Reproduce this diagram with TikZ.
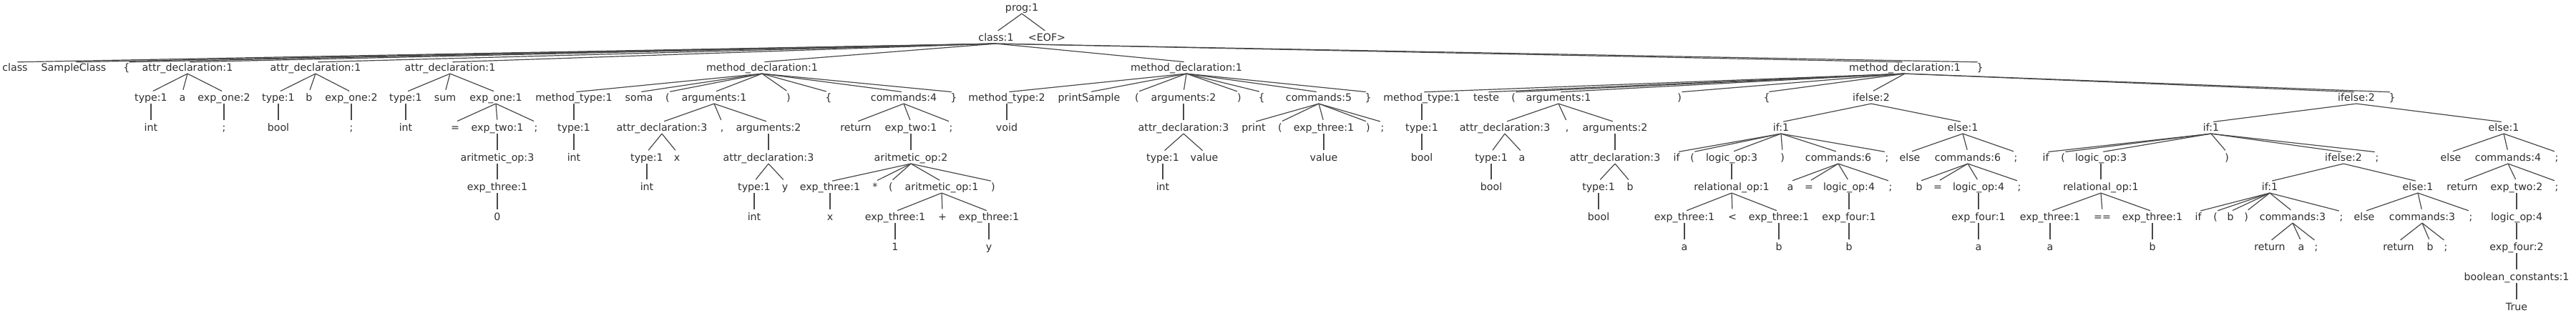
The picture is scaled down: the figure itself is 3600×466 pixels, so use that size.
\documentclass[tikz,border=0pt]{standalone}
\usepackage{fontspec}
\setmainfont{DejaVu Sans}
\usepackage{tikz}
\definecolor{NodeInk}{RGB}{45,45,45}
\definecolor{BranchGray}{RGB}{72,72,72}
\tikzset{
  tok/.style={inner sep=0pt,text height=6.25pt,text depth=1.45pt,text=NodeInk,font=\fontsize{7.1}{8}\selectfont},
  branch/.style={line width=0.6pt,draw=BranchGray,shorten >=1.65pt}
}
\begin{document}
\begin{tikzpicture}[x=0.5pt,y=-0.5pt]
\useasboundingbox (0,0) rectangle (3600,466);
\node[tok] (prog) at (1428,11) {prog:1};
\node[tok] (cls) at (1392,53) {class:1};
\node[tok] (eof) at (1463,53) {<EOF>};
\node[tok] (kwclass) at (21,95) {class};
\node[tok] (sname) at (103,95) {SampleClass};
\node[tok] (lb0) at (177,95) {\{};
\node[tok] (adA) at (262,95) {attr\_declaration:1};
\node[tok] (adB) at (441,95) {attr\_declaration:1};
\node[tok] (adC) at (629,95) {attr\_declaration:1};
\node[tok] (mdA) at (1065,95) {method\_declaration:1};
\node[tok] (mdB) at (1658,95) {method\_declaration:1};
\node[tok] (mdC) at (2662,95) {method\_declaration:1};
\node[tok] (rb0) at (2767,95) {\}};
\node[tok] (tA) at (211,137) {type:1};
\node[tok] (idA) at (255,137) {a};
\node[tok] (eoA) at (313,137) {exp\_one:2};
\node[tok] (tB) at (389,137) {type:1};
\node[tok] (idB) at (432,137) {b};
\node[tok] (eoB) at (491,137) {exp\_one:2};
\node[tok] (tC) at (567,137) {type:1};
\node[tok] (idC) at (622,137) {sum};
\node[tok] (eoC) at (693,137) {exp\_one:1};
\node[tok] (mtA) at (802,137) {method\_type:1};
\node[tok] (nmA) at (893,137) {soma};
\node[tok] (lpA) at (933,137) {(};
\node[tok] (argA) at (998,137) {arguments:1};
\node[tok] (rpA) at (1102,137) {)};
\node[tok] (lbA) at (1158,137) {\{};
\node[tok] (cmA) at (1263,137) {commands:4};
\node[tok] (rbA) at (1333,137) {\}};
\node[tok] (mtB) at (1407,137) {method\_type:2};
\node[tok] (nmB) at (1522,137) {printSample};
\node[tok] (lpB) at (1589,137) {(};
\node[tok] (argB) at (1654,137) {arguments:2};
\node[tok] (rpB) at (1732,137) {)};
\node[tok] (lbB) at (1763,137) {\{};
\node[tok] (cmB) at (1843,137) {commands:5};
\node[tok] (rbB) at (1912,137) {\}};
\node[tok] (mtC) at (1987,137) {method\_type:1};
\node[tok] (nmC) at (2077,137) {teste};
\node[tok] (lpC) at (2115,137) {(};
\node[tok] (argC) at (2178,137) {arguments:1};
\node[tok] (rpC) at (2347,137) {)};
\node[tok] (lbC) at (2469,137) {\{};
\node[tok] (ieA) at (2615,137) {ifelse:2};
\node[tok] (ieB) at (3293,137) {ifelse:2};
\node[tok] (rbC) at (3343,137) {\}};
\node[tok] (intA) at (211,179) {int};
\node[tok] (scA) at (313,179) {;};
\node[tok] (boolB) at (389,179) {bool};
\node[tok] (scB) at (491,179) {;};
\node[tok] (intC) at (567,179) {int};
\node[tok] (eqC) at (636,179) {=};
\node[tok] (etC) at (695,179) {exp\_two:1};
\node[tok] (scC) at (749,179) {;};
\node[tok] (tmA) at (802,179) {type:1};
\node[tok] (adA3) at (925,179) {attr\_declaration:3};
\node[tok] (cmaA) at (1009,179) {,};
\node[tok] (argA2) at (1074,179) {arguments:2};
\node[tok] (retA) at (1196,179) {return};
\node[tok] (etA) at (1273,179) {exp\_two:1};
\node[tok] (scA4) at (1329,179) {;};
\node[tok] (voidB) at (1407,179) {void};
\node[tok] (adB3) at (1654,179) {attr\_declaration:3};
\node[tok] (prB) at (1752,179) {print};
\node[tok] (lpB4) at (1789,179) {(};
\node[tok] (e3B) at (1850,179) {exp\_three:1};
\node[tok] (rpB4) at (1912,179) {)};
\node[tok] (scB4) at (1932,179) {;};
\node[tok] (tmC) at (1987,179) {type:1};
\node[tok] (adC3) at (2103,179) {attr\_declaration:3};
\node[tok] (cmaC) at (2190,179) {,};
\node[tok] (argC2) at (2257,179) {arguments:2};
\node[tok] (ifA) at (2489,179) {if:1};
\node[tok] (elA) at (2743,179) {else:1};
\node[tok] (ifB) at (3090,179) {if:1};
\node[tok] (elB) at (3499,179) {else:1};
\node[tok] (aoC) at (695,221) {aritmetic\_op:3};
\node[tok] (intA5) at (802,221) {int};
\node[tok] (tx) at (904,221) {type:1};
\node[tok] (vx) at (946,221) {x};
\node[tok] (adA3y) at (1074,221) {attr\_declaration:3};
\node[tok] (aoA2) at (1273,221) {aritmetic\_op:2};
\node[tok] (tv) at (1625,221) {type:1};
\node[tok] (vv) at (1683,221) {value};
\node[tok] (valB) at (1850,221) {value};
\node[tok] (boolC) at (1987,221) {bool};
\node[tok] (ta) at (2084,221) {type:1};
\node[tok] (va) at (2127,221) {a};
\node[tok] (adC3b) at (2257,221) {attr\_declaration:3};
\node[tok] (kifA) at (2343,221) {if};
\node[tok] (lpIA) at (2365,221) {(};
\node[tok] (loA) at (2420,221) {logic\_op:3};
\node[tok] (rpIA) at (2491,221) {)};
\node[tok] (cmIA) at (2569,221) {commands:6};
\node[tok] (scIA) at (2637,221) {;};
\node[tok] (kelA) at (2669,221) {else};
\node[tok] (cmEA) at (2750,221) {commands:6};
\node[tok] (scEA) at (2817,221) {;};
\node[tok] (kifB) at (2859,221) {if};
\node[tok] (lpIB) at (2883,221) {(};
\node[tok] (loB) at (2936,221) {logic\_op:3};
\node[tok] (rpIB) at (3112,221) {)};
\node[tok] (ieC) at (3275,221) {ifelse:2};
\node[tok] (scIB) at (3322,221) {;};
\node[tok] (kelB) at (3425,221) {else};
\node[tok] (cmEB) at (3505,221) {commands:4};
\node[tok] (scEB) at (3573,221) {;};
\node[tok] (e3C) at (695,262) {exp\_three:1};
\node[tok] (intx) at (904,262) {int};
\node[tok] (ty) at (1054,262) {type:1};
\node[tok] (vy) at (1097,262) {y};
\node[tok] (e3x) at (1160,262) {exp\_three:1};
\node[tok] (mul) at (1223,262) {*};
\node[tok] (lpM) at (1245,262) {(};
\node[tok] (aoA1) at (1316,262) {aritmetic\_op:1};
\node[tok] (rpM) at (1388,262) {)};
\node[tok] (intv) at (1625,262) {int};
\node[tok] (boola) at (2084,262) {bool};
\node[tok] (tb) at (2234,262) {type:1};
\node[tok] (vb) at (2278,262) {b};
\node[tok] (roA) at (2420,262) {relational\_op:1};
\node[tok] (asA) at (2502,262) {a};
\node[tok] (eqIA) at (2528,262) {=};
\node[tok] (l4A) at (2584,262) {logic\_op:4};
\node[tok] (scI6) at (2642,262) {;};
\node[tok] (asB) at (2682,262) {b};
\node[tok] (eqEA) at (2708,262) {=};
\node[tok] (l4B) at (2765,262) {logic\_op:4};
\node[tok] (scE6) at (2822,262) {;};
\node[tok] (roB) at (2936,262) {relational\_op:1};
\node[tok] (ifC) at (3172,262) {if:1};
\node[tok] (elC) at (3379,262) {else:1};
\node[tok] (retB) at (3441,262) {return};
\node[tok] (et2) at (3517,262) {exp\_two:2};
\node[tok] (scE7) at (3573,262) {;};
\node[tok] (zero) at (695,304) {0};
\node[tok] (inty) at (1054,304) {int};
\node[tok] (xx) at (1160,304) {x};
\node[tok] (e31) at (1251,304) {exp\_three:1};
\node[tok] (plus) at (1317,304) {+};
\node[tok] (e3y) at (1382,304) {exp\_three:1};
\node[tok] (boolb) at (2234,304) {bool};
\node[tok] (e3a) at (2354,304) {exp\_three:1};
\node[tok] (lt) at (2421,304) {<};
\node[tok] (e3b) at (2486,304) {exp\_three:1};
\node[tok] (e4A) at (2584,304) {exp\_four:1};
\node[tok] (e4B) at (2765,304) {exp\_four:1};
\node[tok] (e3aa) at (2865,304) {exp\_three:1};
\node[tok] (eqeq) at (2938,304) {==};
\node[tok] (e3bb) at (3008,304) {exp\_three:1};
\node[tok] (kifC) at (3072,304) {if};
\node[tok] (lpIC) at (3096,304) {(};
\node[tok] (vbC) at (3117,304) {b};
\node[tok] (rpIC) at (3139,304) {)};
\node[tok] (cmIC) at (3204,304) {commands:3};
\node[tok] (scIC) at (3272,304) {;};
\node[tok] (kelC) at (3304,304) {else};
\node[tok] (cmEC) at (3385,304) {commands:3};
\node[tok] (scEC) at (3453,304) {;};
\node[tok] (l4C) at (3517,304) {logic\_op:4};
\node[tok] (one) at (1251,346) {1};
\node[tok] (yy) at (1382,346) {y};
\node[tok] (aa) at (2354,346) {a};
\node[tok] (bb) at (2486,346) {b};
\node[tok] (b4) at (2584,346) {b};
\node[tok] (a4) at (2765,346) {a};
\node[tok] (aaa) at (2865,346) {a};
\node[tok] (bbb) at (3008,346) {b};
\node[tok] (retC) at (3172,346) {return};
\node[tok] (raC) at (3216,346) {a};
\node[tok] (scR1) at (3237,346) {;};
\node[tok] (retD) at (3352,346) {return};
\node[tok] (rbD) at (3396,346) {b};
\node[tok] (scR2) at (3418,346) {;};
\node[tok] (e4C) at (3517,346) {exp\_four:2};
\node[tok] (bc) at (3517,388) {boolean\_constants:1};
\node[tok] (tru) at (3517,430) {True};
\path[branch] (prog.south) edge (cls.north) edge (eof.north);
\path[branch] (cls.south) edge (kwclass.north) edge (sname.north) edge (lb0.north) edge (adA.north) edge (adB.north) edge (adC.north) edge (mdA.north) edge (mdB.north) edge (mdC.north) edge (rb0.north);
\path[branch] (adA.south) edge (tA.north) edge (idA.north) edge (eoA.north);
\path[branch] (adB.south) edge (tB.north) edge (idB.north) edge (eoB.north);
\path[branch] (adC.south) edge (tC.north) edge (idC.north) edge (eoC.north);
\path[branch] (mdA.south) edge (mtA.north) edge (nmA.north) edge (lpA.north) edge (argA.north) edge (rpA.north) edge (lbA.north) edge (cmA.north) edge (rbA.north);
\path[branch] (mdB.south) edge (mtB.north) edge (nmB.north) edge (lpB.north) edge (argB.north) edge (rpB.north) edge (lbB.north) edge (cmB.north) edge (rbB.north);
\path[branch] (mdC.south) edge (mtC.north) edge (nmC.north) edge (lpC.north) edge (argC.north) edge (rpC.north) edge (lbC.north) edge (ieA.north) edge (ieB.north) edge (rbC.north);
\path[branch] (tA.south) edge (intA.north);
\path[branch] (eoA.south) edge (scA.north);
\path[branch] (tB.south) edge (boolB.north);
\path[branch] (eoB.south) edge (scB.north);
\path[branch] (tC.south) edge (intC.north);
\path[branch] (eoC.south) edge (eqC.north) edge (etC.north) edge (scC.north);
\path[branch] (mtA.south) edge (tmA.north);
\path[branch] (argA.south) edge (adA3.north) edge (cmaA.north) edge (argA2.north);
\path[branch] (cmA.south) edge (retA.north) edge (etA.north) edge (scA4.north);
\path[branch] (mtB.south) edge (voidB.north);
\path[branch] (argB.south) edge (adB3.north);
\path[branch] (cmB.south) edge (prB.north) edge (lpB4.north) edge (e3B.north) edge (rpB4.north) edge (scB4.north);
\path[branch] (mtC.south) edge (tmC.north);
\path[branch] (argC.south) edge (adC3.north) edge (cmaC.north) edge (argC2.north);
\path[branch] (ieA.south) edge (ifA.north) edge (elA.north);
\path[branch] (ieB.south) edge (ifB.north) edge (elB.north);
\path[branch] (etC.south) edge (aoC.north);
\path[branch] (tmA.south) edge (intA5.north);
\path[branch] (adA3.south) edge (tx.north) edge (vx.north);
\path[branch] (argA2.south) edge (adA3y.north);
\path[branch] (etA.south) edge (aoA2.north);
\path[branch] (adB3.south) edge (tv.north) edge (vv.north);
\path[branch] (e3B.south) edge (valB.north);
\path[branch] (tmC.south) edge (boolC.north);
\path[branch] (adC3.south) edge (ta.north) edge (va.north);
\path[branch] (argC2.south) edge (adC3b.north);
\path[branch] (ifA.south) edge (kifA.north) edge (lpIA.north) edge (loA.north) edge (rpIA.north) edge (cmIA.north) edge (scIA.north);
\path[branch] (elA.south) edge (kelA.north) edge (cmEA.north) edge (scEA.north);
\path[branch] (ifB.south) edge (kifB.north) edge (lpIB.north) edge (loB.north) edge (rpIB.north) edge (ieC.north) edge (scIB.north);
\path[branch] (elB.south) edge (kelB.north) edge (cmEB.north) edge (scEB.north);
\path[branch] (aoC.south) edge (e3C.north);
\path[branch] (tx.south) edge (intx.north);
\path[branch] (adA3y.south) edge (ty.north) edge (vy.north);
\path[branch] (aoA2.south) edge (e3x.north) edge (mul.north) edge (lpM.north) edge (aoA1.north) edge (rpM.north);
\path[branch] (tv.south) edge (intv.north);
\path[branch] (ta.south) edge (boola.north);
\path[branch] (adC3b.south) edge (tb.north) edge (vb.north);
\path[branch] (loA.south) edge (roA.north);
\path[branch] (cmIA.south) edge (asA.north) edge (eqIA.north) edge (l4A.north) edge (scI6.north);
\path[branch] (cmEA.south) edge (asB.north) edge (eqEA.north) edge (l4B.north) edge (scE6.north);
\path[branch] (loB.south) edge (roB.north);
\path[branch] (ieC.south) edge (ifC.north) edge (elC.north);
\path[branch] (cmEB.south) edge (retB.north) edge (et2.north) edge (scE7.north);
\path[branch] (e3C.south) edge (zero.north);
\path[branch] (ty.south) edge (inty.north);
\path[branch] (e3x.south) edge (xx.north);
\path[branch] (aoA1.south) edge (e31.north) edge (plus.north) edge (e3y.north);
\path[branch] (tb.south) edge (boolb.north);
\path[branch] (roA.south) edge (e3a.north) edge (lt.north) edge (e3b.north);
\path[branch] (l4A.south) edge (e4A.north);
\path[branch] (l4B.south) edge (e4B.north);
\path[branch] (roB.south) edge (e3aa.north) edge (eqeq.north) edge (e3bb.north);
\path[branch] (ifC.south) edge (kifC.north) edge (lpIC.north) edge (vbC.north) edge (rpIC.north) edge (cmIC.north) edge (scIC.north);
\path[branch] (elC.south) edge (kelC.north) edge (cmEC.north) edge (scEC.north);
\path[branch] (et2.south) edge (l4C.north);
\path[branch] (e31.south) edge (one.north);
\path[branch] (e3y.south) edge (yy.north);
\path[branch] (e3a.south) edge (aa.north);
\path[branch] (e3b.south) edge (bb.north);
\path[branch] (e4A.south) edge (b4.north);
\path[branch] (e4B.south) edge (a4.north);
\path[branch] (e3aa.south) edge (aaa.north);
\path[branch] (e3bb.south) edge (bbb.north);
\path[branch] (cmIC.south) edge (retC.north) edge (raC.north) edge (scR1.north);
\path[branch] (cmEC.south) edge (retD.north) edge (rbD.north) edge (scR2.north);
\path[branch] (l4C.south) edge (e4C.north);
\path[branch] (e4C.south) edge (bc.north);
\path[branch] (bc.south) edge (tru.north);
\end{tikzpicture}
\end{document}
